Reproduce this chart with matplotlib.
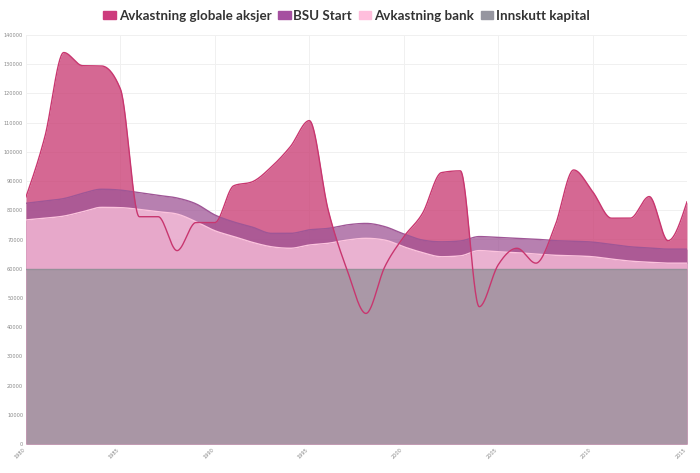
import numpy as np
import matplotlib
matplotlib.use("Agg")
import matplotlib.pyplot as plt

years = list(range(1980, 2016))

# totalverdi per aar (lest av bildet)
aksjer = [84600, 105200, 134000, 129500, 129400, 121500, 77800, 77800, 66200, 75800,
          75800, 88400, 89800, 94900, 101800, 110700, 80100, 59600, 44700, 60700,
          70900, 79000, 92900, 93500, 47000, 61300, 67000, 61900, 74400, 93800,
          86400, 77300, 77300, 84700, 69600, 82900]
bsu = [82400, 83200, 84000, 85800, 87200, 86900, 86000, 85100, 84200, 82200,
       78400, 76000, 74200, 72100, 72100, 73300, 73800, 75000, 75500, 74400,
       71900, 69800, 69200, 69500, 71000, 70700, 70400, 70100, 69600, 69400,
       69100, 68300, 67500, 67100, 66700, 66700]
bank = [76700, 77300, 78000, 79500, 81000, 80900, 80300, 79500, 78700, 76100,
        73000, 71000, 69000, 67500, 67000, 68100, 68700, 69800, 70400, 69800,
        67500, 65500, 64100, 64400, 66200, 65800, 65500, 65000, 64600, 64400,
        64100, 63300, 62600, 62200, 61900, 61900]
innskutt = [60000, 60000, 60000, 60000, 60000, 60000, 60000, 60000, 60000, 60000,
            60000, 60000, 60000, 60000, 60000, 60000, 60000, 60000, 60000, 60000,
            60000, 60000, 60000, 60000, 60000, 60000, 60000, 60000, 60000, 60000,
            60000, 60000, 60000, 60000, 60000, 60000]

names = ["Avkastning globale aksjer", "BSU Start", "Avkastning bank", "Innskutt kapital"]
colors = ["#c8366f", "#9f5696", "#fcc3dd", "#959099"]
swatch = ["#cd3c7d", "#a550a0", "#ffbedc", "#9696a0"]


# monoton kurve (som d3 curveMonotoneX)
def monotone(x, y, n=30):
    x = np.asarray(x, float)
    y = np.asarray(y, float)
    h = np.diff(x)
    s = np.diff(y) / h
    t = np.zeros(len(x))
    for i in range(1, len(x) - 1):
        p = (s[i - 1] * h[i] + s[i] * h[i - 1]) / (h[i - 1] + h[i])
        t[i] = (np.sign(s[i - 1]) + np.sign(s[i])) * min(abs(s[i - 1]), abs(s[i]), 0.5 * abs(p))
    t[0] = (3 * s[0] - t[1]) / 2
    t[-1] = (3 * s[-1] - t[-2]) / 2
    xs, ys = [], []
    u = np.linspace(0, 1, n)
    for i in range(len(x) - 1):
        dx = h[i] / 3
        px = [x[i], x[i] + dx, x[i + 1] - dx, x[i + 1]]
        py = [y[i], y[i] + dx * t[i], y[i + 1] - dx * t[i + 1], y[i + 1]]
        bx = (1-u)**3*px[0] + 3*(1-u)**2*u*px[1] + 3*(1-u)*u**2*px[2] + u**3*px[3]
        by = (1-u)**3*py[0] + 3*(1-u)**2*u*py[1] + 3*(1-u)*u**2*py[2] + u**3*py[3]
        xs.extend(bx[:-1])
        ys.extend(by[:-1])
    xs.append(x[-1])
    ys.append(y[-1])
    return np.array(xs), np.array(ys)


fig = plt.figure(figsize=(7, 4.73), dpi=100)
ax = fig.add_axes([26/700, 1-444/473, 661/700, 409/473])

series = [aksjer, bsu, bank, innskutt]
curves = [monotone(years, s) for s in series]
for i, (cx, cy) in enumerate(curves):
    ax.fill_between(cx, 0, cy, color=colors[i], alpha=0.75, lw=0, zorder=2 + i)
for i, (cx, cy) in enumerate(curves):
    ax.plot(cx, cy, color=colors[i], lw=1, zorder=10 - i)

ax.set_xlim(1980, 2015)
ax.set_ylim(0, 140000)
ax.set_xticks(range(1980, 2016, 5))
ax.set_yticks(range(0, 140001, 10000))
ax.set_yticklabels([str(v) for v in range(0, 140001, 10000)])
ax.tick_params(length=0, labelsize=3.6, labelcolor="#888888", pad=2)
for lab in ax.get_xticklabels():
    lab.set_rotation(45)
    lab.set_ha("right")
    lab.set_va("top")
ax.grid(True, color="#f0f0f0", lw=0.7, zorder=0)
for sp in ax.spines.values():
    sp.set_visible(False)

# legende
handles = [plt.Rectangle((0, 0), 1, 1, color=c) for c in swatch]
leg = fig.legend(handles, names, loc="upper center", bbox_to_anchor=(0.495, 1.005),
                 ncol=4, frameon=False, handlelength=0.95, handleheight=0.55,
                 handletextpad=0.2, columnspacing=0.5,
                 prop={"family": "Lato", "weight": "bold", "size": 9.6})
for txt in leg.get_texts():
    txt.set_color("#333333")

fig.savefig("out.png", dpi=100)
